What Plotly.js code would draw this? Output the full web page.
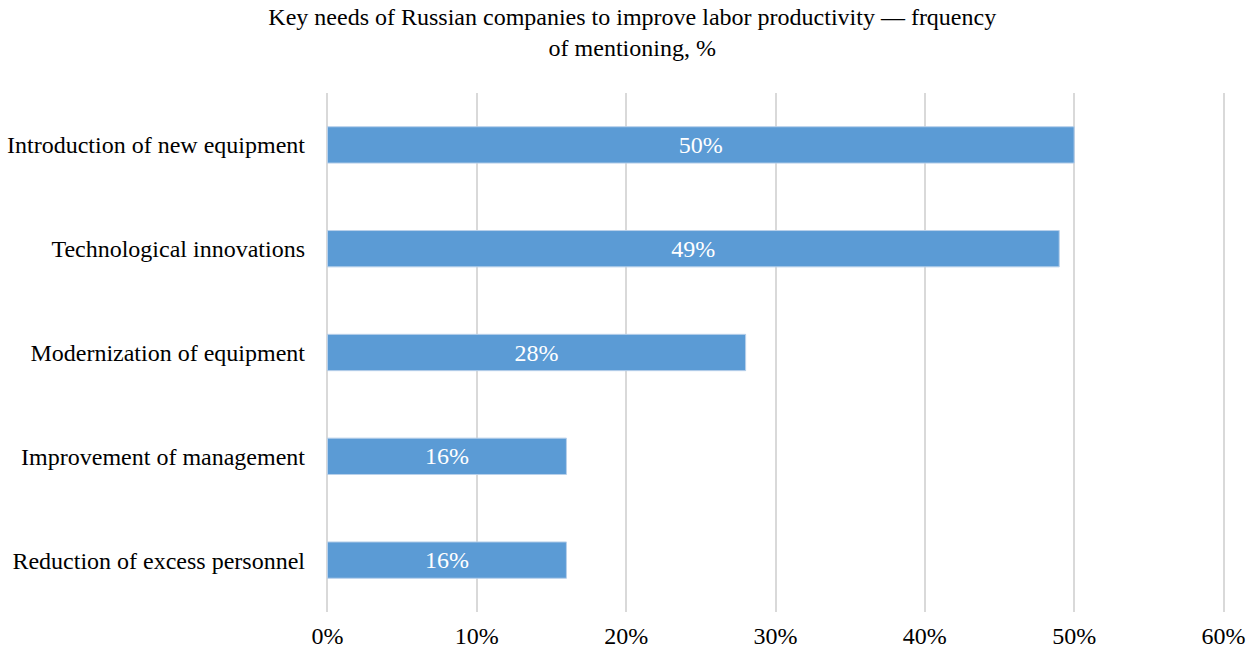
<!DOCTYPE html>
<html>
<head>
<meta charset="utf-8">
<script src="https://cdn.plot.ly/plotly-3.0.1.min.js"></script>
<style>html,body{margin:0;padding:0;background:#fff;}</style>
</head>
<body>
<div id="chart" style="width:1257px;height:651px;"></div>
<script>
const categories = [
  "Introduction of new equipment",
  "Technological innovations",
  "Modernization of equipment",
  "Improvement of management",
  "Reduction of excess personnel"
];
const values = [50, 49, 28, 16, 16];
const tickValues = [0, 10, 20, 30, 40, 50, 60];
const tickLabels = ["0%", "10%", "20%", "30%", "40%", "50%", "60%"];

const font = "Liberation Serif, Times New Roman, serif";

const trace = {
  type: "bar",
  orientation: "h",
  y: categories,
  x: values,
  text: values.map(v => v + "%"),
  textposition: "inside",
  insidetextanchor: "middle",
  textfont: {family: font, size: 24, color: "#ffffff"},
  marker: {color: "#5B9BD5", line: {color: "#b8d0ea", width: 1}},
  hoverinfo: "none",
  cliponaxis: false
};

const layout = {
  width: 1257,
  height: 651,
  margin: {l: 326, r: 32, t: 93, b: 39},
  paper_bgcolor: "#ffffff",
  plot_bgcolor: "#ffffff",
  showlegend: false,
  bargap: 0.65,
  title: {
    text: "Key needs of Russian companies to improve labor productivity — frquency<br>of mentioning, %",
    font: {family: font, size: 24, color: "#000000"},
    x: 0.503,
    xanchor: "center",
    y: 0.962,
    yanchor: "top"
  },
  xaxis: {
    range: [-0.1, 60.1],
    tickvals: tickValues,
    ticktext: tickLabels,
    showgrid: true,
    gridcolor: "#d9d9d9",
    gridwidth: 2,
    zeroline: false,
    showline: false,
    ticks: "outside",
    ticklen: 2,
    tickcolor: "rgba(0,0,0,0)",
    tickfont: {family: font, size: 24, color: "#000000"},
    fixedrange: true
  },
  yaxis: {
    autorange: "reversed",
    showgrid: false,
    zeroline: false,
    showline: false,
    ticks: "",
    ticklabelstandoff: 20,
    tickfont: {family: font, size: 24, color: "#000000"},
    fixedrange: true
  }
};

Plotly.newPlot("chart", [trace], layout, {displayModeBar: false, staticPlot: true});
</script>
</body>
</html>
